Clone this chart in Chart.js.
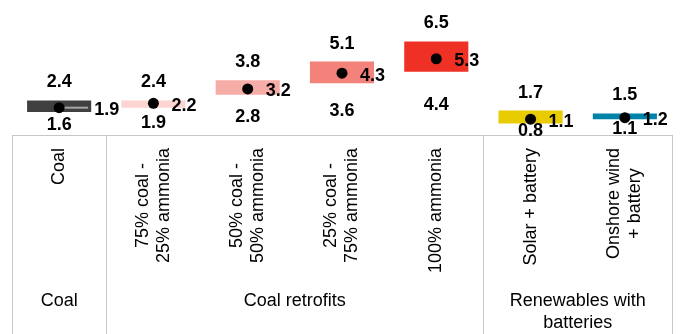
<!DOCTYPE html>
<html>
<head>
<meta charset="utf-8">
<script src="https://cdn.jsdelivr.net/npm/chart.js@4.4.1/dist/chart.umd.min.js"></script>
<style>
  body { margin: 0; background: #fff; }
  #wrap { width: 683px; height: 334px; position: relative; }
</style>
</head>
<body>
<div id="wrap"><canvas id="myChart"></canvas></div>
<script>
const categories = [
  ['Coal'],
  ['75% coal -', '25% ammonia'],
  ['50% coal -', '50% ammonia'],
  ['25% coal -', '75% ammonia'],
  ['100% ammonia'],
  ['Solar + battery'],
  ['Onshore wind', '+ battery']
];
const lows = [1.6, 1.9, 2.8, 3.6, 4.4, 0.8, 1.1];
const highs = [2.4, 2.4, 3.8, 5.1, 6.5, 1.7, 1.5];
const mids = [1.9, 2.2, 3.2, 4.3, 5.3, 1.1, 1.2];

const groupLabels = [['Coal'], ['Coal retrofits'], ['Renewables with', 'batteries']];
const groupFirst = [0, 1, 5];
const groupLast = [0, 4, 6];

const colors = ['#404040', '#FCD5D2', '#F6ADA7', '#F2827A', '#EE3124', '#E8CB00', '#0083A8'];

const FONT = '"Liberation Sans", Arial, sans-serif';
const gridColor = '#C6C6C6';

// table under the plot: lines, rotated category names, group names
const tablePlugin = {
  id: 'table',
  afterDatasetDraw(chart, args) {
    if (args.index !== 0) return;
    // leader line for the coal midpoint label
    const ctx = chart.ctx;
    const x = chart.scales.x.getPixelForValue(0);
    const y = chart.scales.y.getPixelForValue(mids[0]);
    ctx.save();
    ctx.strokeStyle = '#A6A6A6';
    ctx.lineWidth = 2;
    ctx.beginPath();
    ctx.moveTo(x, y);
    ctx.lineTo(x + 29, y);
    ctx.stroke();
    ctx.restore();
  },
  afterDraw(chart) {
    const ctx = chart.ctx;
    const xs = chart.scales.x;
    const ys = chart.scales.y;
    const area = chart.chartArea;
    const step = xs.getPixelForValue(1) - xs.getPixelForValue(0);
    const bottom = chart.height;

    ctx.save();
    ctx.strokeStyle = gridColor;
    ctx.lineWidth = 1;
    ctx.beginPath();
    ctx.moveTo(area.left, area.bottom + 0.5);
    ctx.lineTo(area.right, area.bottom + 0.5);
    const edges = [area.left];
    groupLast.forEach(g => edges.push(xs.getPixelForValue(g) + step / 2));
    edges.forEach(e => {
      const ex = Math.round(e) + 0.5;
      ctx.moveTo(ex, area.bottom);
      ctx.lineTo(ex, bottom);
    });
    ctx.stroke();

    // rotated category names
    ctx.fillStyle = '#000';
    ctx.font = '18px ' + FONT;
    ctx.textAlign = 'center';
    ctx.textBaseline = 'middle';
    categories.forEach((lines, i) => {
      const cx = xs.getPixelForValue(i);
      const len = Math.max(...lines.map(l => ctx.measureText(l).width));
      const cy = area.bottom + 13 + len / 2;
      ctx.save();
      ctx.translate(cx, cy);
      ctx.rotate(-Math.PI / 2);
      lines.forEach((l, k) => {
        const off = (k - (lines.length - 1) / 2) * 21;
        ctx.fillText(l, 0, off);
      });
      ctx.restore();
    });

    // group names
    groupLabels.forEach((lines, g) => {
      const left = xs.getPixelForValue(groupFirst[g]) - step / 2;
      const right = xs.getPixelForValue(groupLast[g]) + step / 2;
      lines.forEach((l, k) => {
        ctx.fillText(l, (left + right) / 2, 301 + k * 22);
      });
    });

    // value labels
    ctx.font = 'bold 18px ' + FONT;
    lows.forEach((lo, i) => {
      const cx = xs.getPixelForValue(i);
      ctx.textAlign = 'center';
      ctx.fillText(highs[i].toFixed(1), cx, ys.getPixelForValue(highs[i]) - 18);
      ctx.fillText(lo.toFixed(1), cx, ys.getPixelForValue(lo / 2) + 2);
      ctx.textAlign = 'left';
      const dx = i === 0 ? 35 : 18;
      ctx.fillText(mids[i].toFixed(1), cx + dx, ys.getPixelForValue(mids[i]) + 2.5);
    });
    ctx.restore();
  }
};

const ctx = document.getElementById('myChart').getContext('2d');
const myChart = new Chart(ctx, {
  type: 'bar',
  data: {
    labels: categories.map(c => c.join(' ')),
    datasets: [
      {
        label: 'Range',
        data: lows.map((lo, i) => [lo, highs[i]]),
        backgroundColor: colors,
        borderWidth: 0,
        categoryPercentage: 1,
        barPercentage: 0.68,
        order: 1
      },
      {
        type: 'line',
        label: 'Central',
        data: mids,
        showLine: false,
        pointRadius: 5.5,
        pointBackgroundColor: '#000',
        pointBorderWidth: 0,
        order: 0
      }
    ]
  },
  options: {
    responsive: true,
    maintainAspectRatio: false,
    animation: false,
    layout: { padding: { left: 12, right: 11, top: 0, bottom: 199 } },
    scales: {
      x: { display: false, offset: true, grid: { display: false } },
      y: { display: false, min: 0, max: 9 }
    },
    plugins: {
      legend: { display: false },
      tooltip: { enabled: false }
    }
  },
  plugins: [tablePlugin]
});
</script>
</body>
</html>
